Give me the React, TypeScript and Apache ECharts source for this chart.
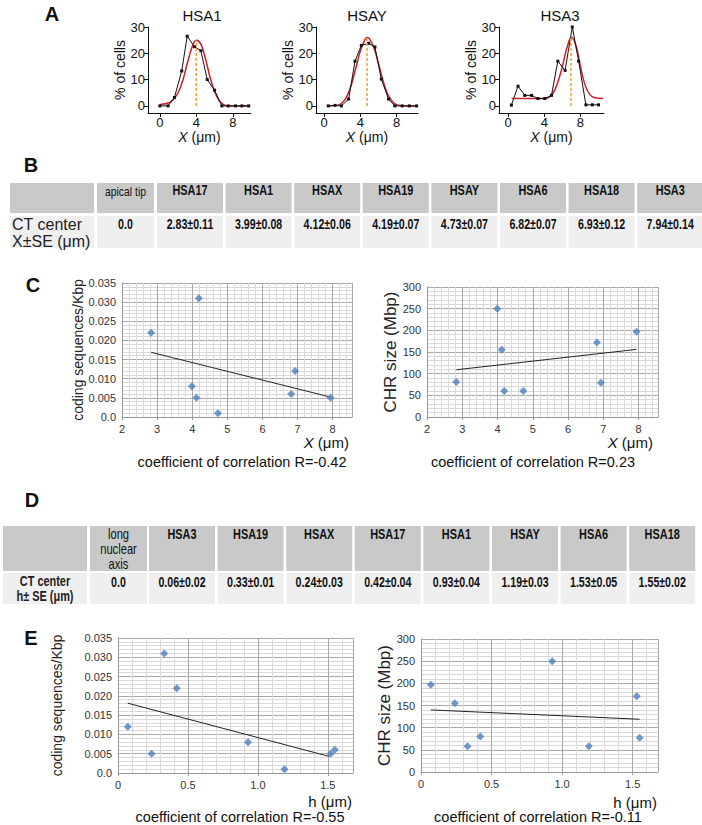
import React, { useEffect, useRef } from "react";
import * as echarts from "echarts";

// ---------- Panel A: distributions (% of cells vs X) ----------
const hsa1Observed = [[0, 0], [0.9, 0], [1.6, 3.2], [2.4, 13.3], [3.0, 26.5], [3.8, 22.5], [4.5, 21], [5.2, 10], [6.0, 6], [6.8, 0], [7.5, 0], [8.3, 0], [9.0, 0], [9.75, 0]];
const hsa1Fit = [[0, 0.5], [1, 1.2], [1.5, 2.5], [2, 5], [2.5, 9.5], [3, 16], [3.5, 22], [4, 25], [4.5, 23.5], [5, 18], [5.5, 11], [6, 5.5], [6.5, 2], [7, 0.5], [7.5, 0], [9.75, 0]];
const hsaYObserved = [[0.45, 0], [1.2, 0.2], [1.9, 0], [2.7, 2.6], [3.4, 17], [4.1, 23], [4.9, 23.8], [5.6, 22.4], [6.3, 10.2], [7.1, 2.6], [7.8, 0], [8.6, 0], [9.4, 0], [10.2, 0]];
const hsaYFit = [[0.45, 0], [1.5, 0.3], [2, 1.2], [2.5, 3.5], [3, 8], [3.5, 14.5], [4, 21], [4.5, 25.2], [4.75, 26], [5, 25.5], [5.5, 22], [6, 16], [6.5, 9.5], [7, 4.5], [7.5, 1.8], [8, 0.5], [9, 0], [10.2, 0]];
const hsa3Observed = [[0.37, 0.3], [1.1, 7.5], [1.85, 4], [2.6, 4], [3.3, 2.8], [4.06, 2.8], [4.8, 4], [5.5, 17], [6.3, 13.5], [7.1, 30], [7.8, 17], [8.6, 0.4], [9.3, 0.4], [10.0, 0.4]];
const hsa3Fit = [[0.4, 2.8], [4, 2.8], [4.5, 3.2], [5, 5], [5.5, 9], [6, 15], [6.5, 22], [7, 26], [7.5, 23], [8, 15], [8.5, 8], [9, 4.5], [9.5, 3.2], [10.5, 2.8]];
const aTitles = ["HSA1", "HSAY", "HSA3"];
const fitCenters = [3.99, 4.73, 6.95];
const fitPeaks = [25, 26, 26];
const aYTicks = [0, 10, 20, 30];
const aXTicks = [0, 4, 8];

// ---------- Table B ----------
const tableBHeaders = ["apical tip", "HSA17", "HSA1", "HSAX", "HSA19", "HSAY", "HSA6", "HSA18", "HSA3"];
const tableBValues = ["0.0", "2.83±0.11", "3.99±0.08", "4.12±0.06", "4.19±0.07", "4.73±0.07", "6.82±0.07", "6.93±0.12", "7.94±0.14"];
const tableBRowLabel = ["CT center", "X±SE (μm)"];

// ---------- Panel C ----------
const cX = [2.83, 3.99, 4.12, 4.19, 4.73, 6.82, 6.93, 7.94];
const cCoding = [0.022, 0.008, 0.005, 0.031, 0.001, 0.006, 0.012, 0.005];
const cSize = [81, 250, 155, 60, 60, 172, 79, 197];
const cCodingTrend = [[2.83, 0.0169], [7.94, 0.0052]];
const cSizeTrend = [[2.83, 109], [7.94, 156]];
const cCorrelation = ["coefficient of correlation R=-0.42", "coefficient of correlation R=0.23"];

// ---------- Table D ----------
const tableDHeaders = ["long\nnuclear\naxis", "HSA3", "HSA19", "HSAX", "HSA17", "HSA1", "HSAY", "HSA6", "HSA18"];
const tableDValues = ["0.0", "0.06±0.02", "0.33±0.01", "0.24±0.03", "0.42±0.04", "0.93±0.04", "1.19±0.03", "1.53±0.05", "1.55±0.02"];
const tableDRowLabel = ["CT center", "h± SE (μm)"];

// ---------- Panel E ----------
const eHCoding = [0.07, 0.24, 0.33, 0.42, 0.93, 1.19, 1.52, 1.55];
const eCoding = [0.012, 0.005, 0.031, 0.022, 0.008, 0.001, 0.005, 0.006];
const eHSize = [0.07, 0.24, 0.33, 0.42, 0.93, 1.19, 1.53, 1.55];
const eSize = [197, 155, 58, 80, 250, 58, 171, 77];
const eCodingTrend = [[0.07, 0.0181], [1.51, 0.0043]];
const eSizeTrend = [[0.07, 140], [1.55, 119]];
const eCorrelation = ["coefficient of correlation R=-0.55", "coefficient of correlation R=-0.11"];

const ARIAL = "'Liberation Sans', Arial, sans-serif";

function txt(x: number, y: number, text: string, font: string, align = "center", fill = "#111", rich?: any, scaleX = 1) {
  const style: any = { text, font, fill, textAlign: align, textVerticalAlign: "middle", align, verticalAlign: "middle" };
  if (rich) style.rich = rich;
  return { type: "text", x, y, scaleX, style, z: 100 };
}

function buildTable(
  headers: string[], values: string[], rowLabel: string[],
  firstX: number, secondX: number, restX: number, y1: number, h1: number, y2: number, h2: number,
  headerFont: (i: number) => string, headerScale: (i: number) => number, headerY: number, valueY: number,
  labelFont: string, labelScale: number, labelX: number, labelAlign: string, labelYs: number[], lineH: number
) {
  const els: any[] = [];
  const cols: { x: number; w: number }[] = [{ x: firstX, w: secondX - firstX - 3 }, { x: secondX, w: 57 }];
  for (let i = 1; i < headers.length; i++) cols.push({ x: restX + (i - 1) * 68.6, w: 66 });
  cols.forEach((c) => {
    els.push({ type: "rect", shape: { x: c.x, y: y1, width: c.w, height: h1 }, style: { fill: "#c9c9c9" } });
    els.push({ type: "rect", shape: { x: c.x, y: y2, width: c.w, height: h2 }, style: { fill: "#efefef" } });
  });
  headers.forEach((h, i) => {
    const c = cols[i + 1];
    const lines = h.split("\n");
    lines.forEach((ln, k) => els.push(txt(c.x + c.w / 2, headerY + k * lineH, ln, headerFont(i), "center", "#111", undefined, headerScale(i))));
    els.push(txt(c.x + c.w / 2, valueY, values[i], `bold 14px ${ARIAL}`, "center", "#111", undefined, 0.76));
  });
  rowLabel.forEach((ln, k) => els.push(txt(labelX, labelYs[k], ln, labelFont, labelAlign, "#222", undefined, labelScale)));
  return els;
}

function buildOption() {
  const aObs = [hsa1Observed, hsaYObserved, hsa3Observed];
  const aFit = [hsa1Fit, hsaYFit, hsa3Fit];
  const aLayout = [
    { left: 148, width: 103, min: -1.3, max: 10, titleX: 202 },
    { left: 316, width: 102, min: -0.9, max: 10.35, titleX: 367 },
    { left: 499, width: 105, min: -1.0, max: 10.6, titleX: 560 },
  ];
  const grid: any[] = [];
  const xAxis: any[] = [];
  const yAxis: any[] = [];
  const series: any[] = [];
  const graphic: any[] = [];

  aLayout.forEach((L, i) => {
    grid.push({ left: L.left, top: 27, width: L.width, height: 86 });
    xAxis.push({
      type: "value", gridIndex: i, min: L.min, max: L.max,
      axisLine: { show: true, onZero: false, lineStyle: { color: "#111", width: 1 } },
      axisTick: { show: true, length: 4, customValues: aXTicks, lineStyle: { color: "#111" } },
      axisLabel: { customValues: aXTicks, fontSize: 13, color: "#111", fontFamily: ARIAL, margin: 3 },
      splitLine: { show: false },
      name: "{i|X} (μm)", nameLocation: "middle", nameGap: 14,
      nameTextStyle: { fontSize: 14, color: "#111", fontFamily: ARIAL, rich: { i: { fontStyle: "italic", fontSize: 14, fontFamily: ARIAL, color: "#111" } } },
    });
    yAxis.push({
      type: "value", gridIndex: i, min: -2.7, max: 30,
      axisLine: { show: true, onZero: false, lineStyle: { color: "#111", width: 1 } },
      axisTick: { show: true, length: 4, customValues: aYTicks, lineStyle: { color: "#111" } },
      axisLabel: { customValues: aYTicks, fontSize: 13, color: "#111", fontFamily: ARIAL, margin: 3 },
      splitLine: { show: false },
      name: "% of cells", nameLocation: "middle", nameGap: 20,
      nameTextStyle: { fontSize: 14, color: "#111", fontFamily: ARIAL },
    });
    series.push({
      type: "line", xAxisIndex: i, yAxisIndex: i, data: aFit[i], smooth: 0.4, showSymbol: false,
      lineStyle: { color: "#c8202c", width: 1.5 }, z: 2,
    });
    series.push({
      type: "line", xAxisIndex: i, yAxisIndex: i, data: aObs[i], symbol: "rect", symbolSize: 3,
      itemStyle: { color: "#111" }, lineStyle: { color: "#111", width: 1 }, z: 3,
    });
    series.push({
      type: "line", xAxisIndex: i, yAxisIndex: i, data: [[fitCenters[i], 0], [fitCenters[i], fitPeaks[i]]], showSymbol: false,
      lineStyle: { color: "#f0a030", width: 1.5, type: [3, 2] }, z: 4,
    });
    graphic.push(txt(L.titleX, 15, aTitles[i], `15px ${ARIAL}`));
  });

  // scatter charts
  const sc = [
    { left: 122, top: 283, width: 230, height: 134, xmin: 2, xmax: 8.55, xint: 1, ymax: 0.035, yint: 0.005, fmt: "coding", xs: cX, ys: cCoding, trend: cCodingTrend, yname: "coding sequences/Kbp", ynameSize: 14, ynameGap: 37, xLabelFmt: "int" },
    { left: 427, top: 287, width: 231, height: 130, xmin: 2, xmax: 8.55, xint: 1, ymax: 300, yint: 50, fmt: "size", xs: cX, ys: cSize, trend: cSizeTrend, yname: "CHR size (Mbp)", ynameSize: 17, ynameGap: 27, xLabelFmt: "int" },
    { left: 118, top: 638, width: 235, height: 135, xmin: 0, xmax: 1.68, xint: 0.5, ymax: 0.035, yint: 0.005, fmt: "coding", xs: eHCoding, ys: eCoding, trend: eCodingTrend, yname: "coding sequences/Kbp", ynameSize: 14, ynameGap: 54, xLabelFmt: "h" },
    { left: 421, top: 639, width: 237, height: 133, xmin: 0, xmax: 1.68, xint: 0.5, ymax: 300, yint: 50, fmt: "size", xs: eHSize, ys: eSize, trend: eSizeTrend, yname: "CHR size (Mbp)", ynameSize: 17, ynameGap: 27, xLabelFmt: "h" },
  ];
  sc.forEach((S, k) => {
    const gi = 3 + k;
    grid.push({ left: S.left, top: S.top, width: S.width, height: S.height });
    xAxis.push({
      type: "value", gridIndex: gi, min: S.xmin, max: S.xmax, interval: S.xint,
      axisLine: { show: true, onZero: false, lineStyle: { color: "#999" } },
      axisTick: { show: true, length: 3, lineStyle: { color: "#999" } },
      axisLabel: {
        fontSize: 11, color: "#333", fontFamily: ARIAL, margin: 6, showMaxLabel: false,
        formatter: (v: number) => (S.xLabelFmt === "int" ? String(v) : v === 0 ? "0" : v.toFixed(1)),
      },
      splitLine: { show: true, lineStyle: { color: "#a8a8a8", width: 1 } },
      minorTick: { show: false, splitNumber: 5 },
      minorSplitLine: { show: true, lineStyle: { color: "#dadada", width: 1 } },
    });
    yAxis.push({
      type: "value", gridIndex: gi, min: 0, max: S.ymax, interval: S.yint,
      axisLine: { show: true, lineStyle: { color: "#999" } },
      axisTick: { show: false },
      axisLabel: {
        fontSize: 11, color: "#333", fontFamily: ARIAL, margin: 6,
        formatter: (v: number) => (S.fmt === "coding" ? (v === 0 ? "0.0" : v.toFixed(3)) : String(Math.round(v))),
      },
      splitLine: { show: true, lineStyle: { color: "#a8a8a8", width: 1 } },
      minorTick: { show: false, splitNumber: 5 },
      minorSplitLine: { show: true, lineStyle: { color: "#dadada", width: 1 } },
      name: S.yname, nameLocation: "middle", nameGap: S.ynameGap,
      nameTextStyle: { fontSize: S.ynameSize, color: "#222", fontFamily: ARIAL },
    });
    series.push({
      type: "line", xAxisIndex: gi, yAxisIndex: gi, data: S.trend, showSymbol: false,
      lineStyle: { color: "#222", width: 1 }, z: 3,
    });
    series.push({
      type: "scatter", xAxisIndex: gi, yAxisIndex: gi, data: S.xs.map((x, j) => [x, S.ys[j]]),
      symbol: "diamond", symbolSize: 8, itemStyle: { color: "#4a7ebb" }, z: 4,
    });
  });

  // axis names and correlation captions for C and E
  const italicRich = { i: { fontStyle: "italic", fontSize: 15, fontFamily: ARIAL, fill: "#111", color: "#111" } };
  graphic.push(txt(349, 442, "{i|X} (μm)", `15px ${ARIAL}`, "right", "#111", italicRich));
  graphic.push(txt(653, 442, "{i|X} (μm)", `15px ${ARIAL}`, "right", "#111", italicRich));
  graphic.push(txt(242, 462, cCorrelation[0], `14.5px ${ARIAL}`));
  graphic.push(txt(533, 462, cCorrelation[1], `14.5px ${ARIAL}`));
  graphic.push(txt(352, 801, "h (μm)", `15px ${ARIAL}`, "right"));
  graphic.push(txt(657, 802, "h (μm)", `15px ${ARIAL}`, "right"));
  graphic.push(txt(240, 817, eCorrelation[0], `14.5px ${ARIAL}`));
  graphic.push(txt(538, 817, eCorrelation[1], `14.5px ${ARIAL}`));

  // panel letters
  const letters = [["A", 52, 14], ["B", 31, 165], ["C", 33, 285], ["D", 32, 500], ["E", 31, 638]];
  letters.forEach(([t, x, y]) => graphic.push(txt(x as number, y as number, t as string, `bold 20px ${ARIAL}`)));

  // tables
  graphic.push(
    ...buildTable(tableBHeaders, tableBValues, tableBRowLabel, 10, 97, 157, 183, 30, 216, 32,
      (i) => (i === 0 ? `13px ${ARIAL}` : `bold 14px ${ARIAL}`), (i) => (i === 0 ? 0.8 : 0.78), 191, 224,
      `16px ${ARIAL}`, 1, 12, "left", [224, 241], 15)
  );
  graphic.push(
    ...buildTable(tableDHeaders, tableDValues, tableDRowLabel, 3, 90, 149, 526, 45, 573, 31,
      (i) => (i === 0 ? `14px ${ARIAL}` : `bold 14px ${ARIAL}`), (i) => (i === 0 ? 0.8 : 0.78), 535, 582,
      `bold 14px ${ARIAL}`, 0.78, 45, "center", [582, 597], 15)
  );

  return { animation: false, backgroundColor: "#fff", grid, xAxis, yAxis, series, graphic };
}

export default function App() {
  const ref = useRef<HTMLDivElement>(null);
  useEffect(() => {
    const chart = echarts.init(ref.current!, null, { renderer: "svg" });
    chart.setOption(buildOption() as any);
    return () => chart.dispose();
  }, []);
  return <div ref={ref} style={{ position: "absolute", left: 0, top: 0, width: 702, height: 825, background: "#fff" }} />;
}
